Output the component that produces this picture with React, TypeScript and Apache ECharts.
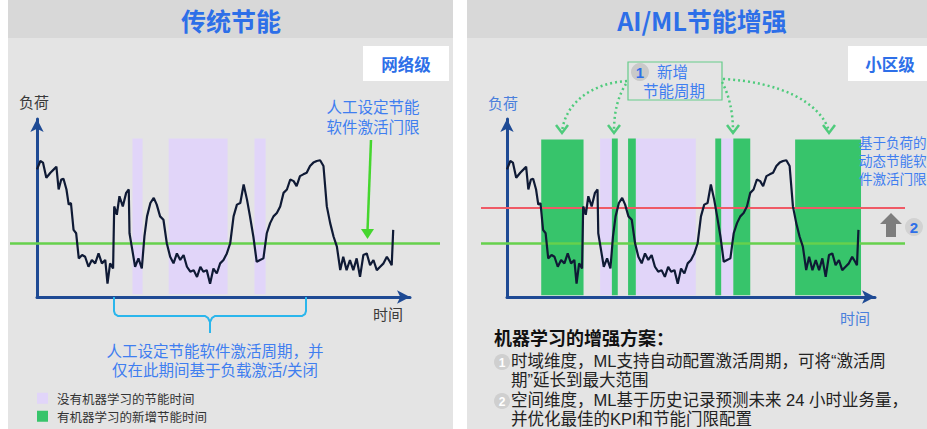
import React, { useEffect, useRef } from "react";
import * as echarts from "echarts";

// time (0..100, 100 = arrow tip) vs load (0..100, 100 = arrow tip)
const loadSeries: [number, number][] = [
  [0, 71.7], [0.9, 76.4], [1.6, 75.5], [2.5, 67], [3.6, 69.8], [4.5, 71.7], [5.2, 73.2], [5.8, 60.4],
  [6.5, 66], [7.1, 66.4], [7.9, 60.4], [8.5, 51.9], [9.1, 52.8], [9.8, 37.7], [10.5, 35.8], [11.2, 21.7],
  [12.1, 23.6], [12.9, 22.6], [13.8, 17], [14.7, 20.8], [15.6, 18.9], [16.5, 24.5], [17.4, 18.9], [18.3, 20.8],
  [18.9, 7.5], [19.6, 18.9], [20.4, 16], [20.7, 50.9], [21.4, 46.2], [22.1, 56.6], [23, 50.9], [23.9, 58.5],
  [24.6, 60.4], [24.8, 35.8], [25.4, 28.3], [26.3, 17], [27.2, 21.7], [28.1, 16], [28.8, 34], [29.5, 45.3],
  [30.4, 52.8], [31.3, 55.7], [32.1, 51.9], [33, 45.3], [33.9, 43.4], [34.8, 30.2], [35.7, 22.6], [36.6, 18.9],
  [37.5, 24.5], [38.4, 20.8], [39.3, 23.6], [40.2, 17], [41.1, 14.2], [42, 15.1], [42.9, 11.3], [43.8, 17],
  [44.6, 14.2], [45.5, 15.1], [46.4, 7.5], [47.3, 16], [48.2, 13.2], [49.1, 18.9], [50, 20.8], [50.9, 24.5],
  [51.8, 30.2], [52.7, 45.3], [53.6, 51.9], [54.5, 52.8], [55.4, 63.2], [56.3, 54.7], [57.1, 45.3], [58, 34],
  [58.9, 19.8], [59.8, 20.8], [60.7, 21.7], [61.6, 35.8], [62.5, 41.5], [63.4, 45.3], [64.3, 47.2], [65.2, 50.9],
  [66.1, 58.5], [67, 60.4], [67.9, 66], [68.8, 65.1], [69.6, 62.3], [70.5, 67.9], [71.4, 68.9], [72.3, 69.8],
  [73.2, 73.6], [74.1, 75.5], [75, 76.4], [75.9, 76.8], [76.8, 73.6], [77.7, 50.9], [78.6, 41.5], [79.5, 34],
  [80.4, 28.3], [81.3, 15.1], [82.1, 22.6], [83, 15.1], [83.9, 20.8], [84.8, 15.1], [85.7, 21.7], [86.6, 11.3],
  [87.5, 23.6], [88.4, 24.5], [89.3, 17.9], [90.2, 20.8], [91.1, 15.1], [92, 17], [92.9, 18.9], [93.8, 22.6],
  [94.6, 19.8], [95.1, 17.9], [95.5, 37.7],
];

// [start, end, top, bottom]
const leftPurpleBands = [[25.6, 28.3, 89, 1.5], [35.3, 51.1, 89, 1.5], [58.3, 61.3, 89, 1.5]];
const rightPurpleBands = [[25.3, 28.5, 89, 1], [35, 51.3, 89, 1], [58.2, 61.5, 89, 1]];
const rightGreenBands = [
  [9.3, 20.8, 88.5, 1], [28.5, 30.1, 89, 1], [32.9, 35, 89, 1],
  [56.6, 58.2, 89, 1], [61.5, 66.1, 89, 1], [78.3, 96.2, 88.5, 1],
];

const fixedThreshold = 30;
const dynamicThreshold = 50;

const legendNames = ["没有机器学习的节能时间", "有机器学习的新增节能时间"];

const FONT = '"Noto Sans CJK SC", "Noto Sans", sans-serif';
const MIXED_FONT = '"Liberation Sans", "Noto Sans CJK SC", sans-serif';
const TITLE_BLUE = "#2d6fe8";
const NOTE_BLUE = "#3f7ef0";
const PURPLE = "#e1d5f9";
const GREEN = "#37c46b";

function txt(x: number, y: number, text: string, size: number, color: string, extra: any = {}) {
  const align = extra.align || "center";
  return {
    type: "text",
    x,
    y,
    z: 100,
    style: {
      text,
      fill: color,
      fontSize: size,
      fontWeight: extra.bold ? "bold" : "normal",
      fontFamily: extra.font || FONT,
      align,
      textAlign: align,
      verticalAlign: "middle",
      textVerticalAlign: "middle",
      lineHeight: extra.lineHeight || size * 1.2,
    },
  };
}

const bandRender = (color: string) => (_params: any, api: any) => {
  const p0 = api.coord([api.value(0), api.value(2)]);
  const p1 = api.coord([api.value(1), api.value(3)]);
  return {
    type: "rect",
    shape: { x: p0[0], y: p0[1], width: p1[0] - p0[0], height: p1[1] - p0[1] },
    style: { fill: color },
  };
};

function mainAxis(gridIndex: number) {
  return {
    gridIndex,
    type: "value",
    min: 0,
    max: 100,
    axisLine: {
      show: true,
      onZero: false,
      symbol: ["none", "arrow"],
      symbolSize: [10, 13],
      lineStyle: { color: "#1e4a94", width: 3 },
    },
    axisTick: { show: false },
    axisLabel: { show: false },
    splitLine: { show: false },
  };
}

function hiddenAxis(gridIndex: number, max: number) {
  return { gridIndex, type: "value", min: 0, max, show: false, splitLine: { show: false } };
}

function legendAt(top: number, name: string) {
  return {
    left: 37,
    top,
    padding: 0,
    itemWidth: 11,
    itemHeight: 11,
    icon: "rect",
    selectedMode: false,
    data: [name],
    textStyle: { fontSize: 12.5, color: "#333", fontFamily: FONT, padding: [0, 0, 0, 4] },
  };
}

export default function App() {
  const ref = useRef<HTMLDivElement>(null);
  useEffect(() => {
    const chart = echarts.init(ref.current!, null, { renderer: "svg" });

    const dotted = { stroke: "#4fcb7c", lineWidth: 2.5, lineDash: [2, 3], fill: "none" };
    const head = (x: number, y: number) => ({
      type: "polyline",
      z: 100,
      shape: { points: [[x - 6, y - 8], [x, y], [x + 6, y - 8]] },
      style: { stroke: "#4fcb7c", lineWidth: 2.5, fill: "none" },
    });

    const option: any = {
      animation: false,
      backgroundColor: "#ffffff",
      textStyle: { fontFamily: FONT },
      grid: [
        { left: 37, top: 119, width: 373, height: 178 },
        { left: 10, top: 119, width: 430, height: 178 },
        { left: 507, top: 119, width: 368, height: 178 },
        { left: 481, top: 119, width: 424, height: 178 },
      ],
      xAxis: [mainAxis(0), hiddenAxis(1, 1), mainAxis(2), hiddenAxis(3, 1)],
      yAxis: [mainAxis(0), hiddenAxis(1, 100), mainAxis(2), hiddenAxis(3, 100)],
      legend: [legendAt(392, legendNames[0]), legendAt(410, legendNames[1])],
      series: [
        {
          type: "custom",
          name: legendNames[0],
          xAxisIndex: 0,
          yAxisIndex: 0,
          z: 1,
          renderItem: bandRender(PURPLE),
          itemStyle: { color: PURPLE },
          encode: { x: [0, 1], y: [2, 3] },
          data: leftPurpleBands,
        },
        {
          type: "custom",
          name: legendNames[0],
          xAxisIndex: 2,
          yAxisIndex: 2,
          z: 1,
          renderItem: bandRender(PURPLE),
          itemStyle: { color: PURPLE },
          encode: { x: [0, 1], y: [2, 3] },
          data: rightPurpleBands,
        },
        {
          type: "custom",
          name: legendNames[1],
          xAxisIndex: 2,
          yAxisIndex: 2,
          z: 1,
          renderItem: bandRender(GREEN),
          itemStyle: { color: GREEN },
          encode: { x: [0, 1], y: [2, 3] },
          data: rightGreenBands,
        },
        {
          type: "line",
          xAxisIndex: 1,
          yAxisIndex: 1,
          z: 3,
          showSymbol: false,
          lineStyle: { color: "#66d14c", width: 2.5 },
          data: [[0, fixedThreshold], [1, fixedThreshold]],
        },
        {
          type: "line",
          xAxisIndex: 3,
          yAxisIndex: 3,
          z: 3,
          showSymbol: false,
          lineStyle: { color: "#66d14c", width: 2.5 },
          data: [[0, fixedThreshold], [1, fixedThreshold]],
        },
        {
          type: "line",
          xAxisIndex: 3,
          yAxisIndex: 3,
          z: 3,
          showSymbol: false,
          lineStyle: { color: "#ef5a66", width: 2 },
          data: [[0, dynamicThreshold], [1, dynamicThreshold]],
        },
        {
          type: "line",
          xAxisIndex: 0,
          yAxisIndex: 0,
          z: 5,
          showSymbol: false,
          lineStyle: { color: "#0f1a35", width: 2.2 },
          data: loadSeries,
        },
        {
          type: "line",
          xAxisIndex: 2,
          yAxisIndex: 2,
          z: 5,
          showSymbol: false,
          lineStyle: { color: "#0f1a35", width: 2.2 },
          data: loadSeries,
        },
      ],
      graphic: [
        // panels
        { type: "rect", z: -10, shape: { x: 8, y: 38, width: 445, height: 391 }, style: { fill: "#e4e4e4" } },
        { type: "rect", z: -10, shape: { x: 8, y: 0, width: 445, height: 38 }, style: { fill: "#d8d8d8" } },
        { type: "rect", z: -10, shape: { x: 467, y: 38, width: 460, height: 391 }, style: { fill: "#e4e4e4" } },
        { type: "rect", z: -10, shape: { x: 467, y: 0, width: 460, height: 38 }, style: { fill: "#d8d8d8" } },
        // titles
        txt(231, 20, "传统节能", 25, TITLE_BLUE, { bold: true }),
        txt(702, 20, "AI/ML节能增强", 25, TITLE_BLUE, { bold: true }),
        { type: "rect", z: 50, shape: { x: 363, y: 46, width: 86, height: 35 }, style: { fill: "#ffffff" } },
        txt(406, 64, "网络级", 16.5, TITLE_BLUE, { bold: true }),
        { type: "rect", z: 50, shape: { x: 848, y: 46, width: 85, height: 35 }, style: { fill: "#ffffff" } },
        txt(890, 64, "小区级", 16.5, TITLE_BLUE, { bold: true }),
        // left annotations
        txt(34, 101, "负荷", 15, "#3a3a3a"),
        txt(388, 313, "时间", 15, "#3a3a3a"),
        txt(373, 107, "人工设定节能", 15.5, NOTE_BLUE, { lineHeight: 17, font: MIXED_FONT }),
        txt(373, 127, "软件激活门限", 15.5, NOTE_BLUE, { lineHeight: 17, font: MIXED_FONT }),
        { type: "line", z: 100, shape: { x1: 371, y1: 140, x2: 367.5, y2: 231 }, style: { stroke: "#45d62e", lineWidth: 2.5 } },
        { type: "polygon", z: 100, shape: { points: [[361, 229], [374, 229], [367.5, 239]] }, style: { fill: "#45d62e" } },
        {
          type: "polyline",
          z: 100,
          shape: { points: [[114, 297], [114, 311], [115, 314], [118, 316], [205, 316], [208, 318], [210, 322], [210, 333]] },
          style: { stroke: "#2bb6ec", lineWidth: 2, fill: "none" },
        },
        {
          type: "polyline",
          z: 100,
          shape: { points: [[210, 322], [212, 318], [215, 316], [302, 316], [305, 314], [306, 311], [306, 297]] },
          style: { stroke: "#2bb6ec", lineWidth: 2, fill: "none" },
        },
        txt(215, 351.5, "人工设定节能软件激活周期，并", 15.5, NOTE_BLUE, { lineHeight: 17, font: MIXED_FONT }),
        txt(215, 370.5, "仅在此期间基于负载激活/关闭", 15.5, NOTE_BLUE, { lineHeight: 17, font: MIXED_FONT }),
        // right annotations
        txt(503, 102, "负荷", 15, "#4a7fdc"),
        txt(855, 317, "时间", 15, "#4a7fdc"),
        txt(859, 143, "基于负荷的", 13.5, NOTE_BLUE, { align: "left", lineHeight: 16, font: MIXED_FONT }),
        txt(859, 161, "动态节能软", 13.5, NOTE_BLUE, { align: "left", lineHeight: 16, font: MIXED_FONT }),
        txt(859, 179, "件激活门限", 13.5, NOTE_BLUE, { align: "left", lineHeight: 16, font: MIXED_FONT }),
        { type: "rect", z: 100, shape: { x: 628, y: 62, width: 94, height: 38 }, style: { stroke: "#66cc8a", lineWidth: 1.2, fill: "none" } },
        { type: "circle", z: 100, shape: { cx: 640, cy: 72, r: 9 }, style: { fill: "#c9c9c9" } },
        txt(640, 72.5, "1", 15, "#2d6fe8", { bold: true, font: MIXED_FONT }),
        txt(657, 72, "新增", 15.5, NOTE_BLUE, { align: "left", lineHeight: 17, font: MIXED_FONT }),
        txt(674, 91, "节能周期", 15.5, NOTE_BLUE, { lineHeight: 17, font: MIXED_FONT }),
        { type: "bezierCurve", z: 100, shape: { x1: 627, y1: 81, cpx1: 592, cpy1: 83, cpx2: 565, cpy2: 103, x2: 562, y2: 132 }, style: dotted },
        head(562, 133),
        { type: "bezierCurve", z: 100, shape: { x1: 626, y1: 84, cpx1: 618, cpy1: 96, cpx2: 614, cpy2: 112, x2: 614, y2: 131 }, style: dotted },
        head(614, 133),
        { type: "bezierCurve", z: 100, shape: { x1: 722, y1: 82, cpx1: 729, cpy1: 95, cpx2: 733, cpy2: 112, x2: 733, y2: 131 }, style: dotted },
        head(733, 133),
        { type: "bezierCurve", z: 100, shape: { x1: 723, y1: 79, cpx1: 780, cpy1: 82, cpx2: 820, cpy2: 102, x2: 829, y2: 131 }, style: dotted },
        head(829, 133),
        {
          type: "polygon",
          z: 100,
          shape: { points: [[891, 213], [902, 224], [896, 224], [896, 237], [886, 237], [886, 224], [880, 224]] },
          style: { fill: "#7d7d7d" },
        },
        { type: "circle", z: 100, shape: { cx: 914, cy: 227, r: 9 }, style: { fill: "#d2d2d2" } },
        txt(914, 227.5, "2", 15, "#2d6fe8", { bold: true, font: MIXED_FONT }),
        // bottom notes
        txt(494, 337, "机器学习的增强方案：", 18, "#111111", { align: "left", bold: true, lineHeight: 20 }),
        { type: "circle", z: 100, shape: { cx: 502, cy: 362, r: 8 }, style: { fill: "#cfcfcf" } },
        txt(502, 362.5, "1", 12, "#ffffff", { bold: true, font: MIXED_FONT }),
        txt(511, 361, "时域维度，ML支持自动配置激活周期，可将“激活周", 16.5, "#222222", { align: "left", font: MIXED_FONT, lineHeight: 18 }),
        txt(511, 380, "期”延长到最大范围", 16.5, "#222222", { align: "left", font: MIXED_FONT, lineHeight: 18 }),
        { type: "circle", z: 100, shape: { cx: 502, cy: 401, r: 8 }, style: { fill: "#cfcfcf" } },
        txt(502, 401.5, "2", 12, "#ffffff", { bold: true, font: MIXED_FONT }),
        txt(511, 400, "空间维度，ML基于历史记录预测未来 24 小时业务量，", 16.5, "#222222", { align: "left", font: MIXED_FONT, lineHeight: 18 }),
        txt(511, 419, "并优化最佳的KPI和节能门限配置", 16.5, "#222222", { align: "left", font: MIXED_FONT, lineHeight: 18 }),
      ],
    };

    chart.setOption(option);
    return () => chart.dispose();
  }, []);
  return <div ref={ref} style={{ position: "fixed", left: 0, top: 0, width: 927, height: 429 }} />;
}
